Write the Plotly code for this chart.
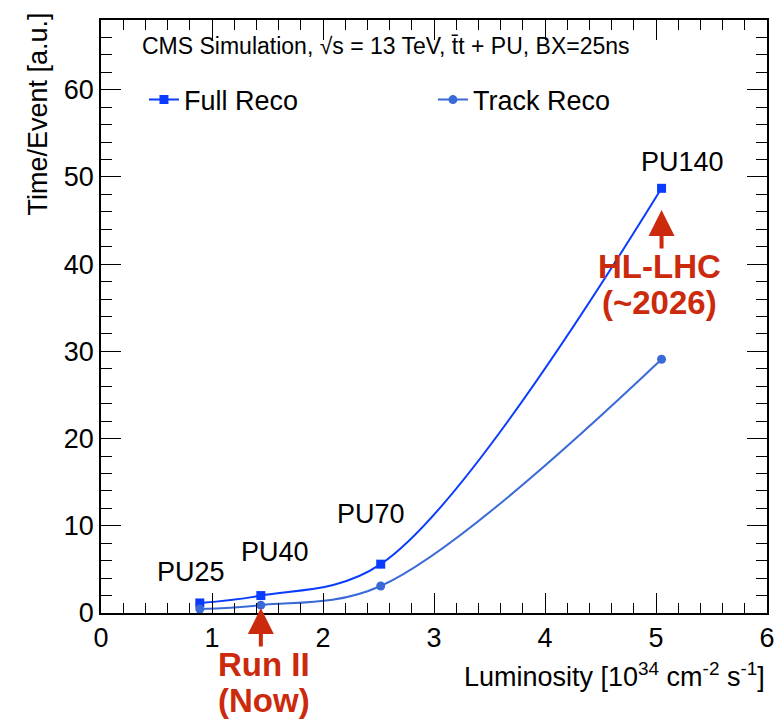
import plotly.graph_objects as go

lumi = [0.89, 1.44, 2.52, 5.05]
full_reco = [1.15, 2.0, 5.6, 48.7]
track_reco = [0.45, 0.9, 3.1, 29.1]
pu_labels = ["PU25", "PU40", "PU70", "PU140"]
pu_label_pos = [(0.815, 4.74), (1.565, 7.0), (2.43, 11.35), (5.24, 51.7)]

FULL_C = "#0a3cff"
TRACK_C = "#3a6ad8"
RED = "#cc2a0c"
FONT = "Liberation Sans, Arial, sans-serif"

fig = go.Figure()
fig.add_trace(go.Scatter(
    x=lumi, y=full_reco, mode="lines+markers", name="Full Reco",
    line=dict(color=FULL_C, width=2, shape="spline", smoothing=1.0),
    marker=dict(symbol="square", size=9, color=FULL_C),
    cliponaxis=False,
))
fig.add_trace(go.Scatter(
    x=lumi, y=track_reco, mode="lines+markers", name="Track Reco",
    line=dict(color=TRACK_C, width=2, shape="spline", smoothing=1.0),
    marker=dict(symbol="circle", size=9, color=TRACK_C),
    cliponaxis=False,
))

ann = []
for lab, (px, py) in zip(pu_labels, pu_label_pos):
    ann.append(dict(x=px, y=py, xref="x", yref="y", text=lab, showarrow=False,
                    font=dict(family=FONT, size=27, color="black")))

# CMS header
ann.append(dict(x=0.0586, y=0.9557, xref="paper", yref="paper", xanchor="left", yanchor="middle",
                text="CMS Simulation, \u221as = 13 TeV, t\u0304t + PU, BX=25ns", showarrow=False,
                font=dict(family=FONT, size=23, color="black")))

# arrows
ann.append(dict(x=1.44, y=0.57, xref="x", yref="y", ax=0, ay=40, text="", showarrow=True,
                arrowhead=2, arrowsize=1.3, arrowwidth=4, arrowcolor=RED))
ann.append(dict(x=5.05, y=46.2, xref="x", yref="y", ax=0, ay=40, text="", showarrow=True,
                arrowhead=2, arrowsize=1.3, arrowwidth=4, arrowcolor=RED))

# red texts (paper coords so they show outside the axis range)
for txt, x, y in [("Run II", 0.2445, -0.0861), ("(Now)", 0.2445, -0.1468),
                  ("HL-LHC", 0.8393, 0.584), ("(~2026)", 0.8393, 0.5232)]:
    ann.append(dict(x=x, y=y, xref="paper", yref="paper", text="<b>%s</b>" % txt, showarrow=False,
                    xanchor="center", yanchor="middle",
                    font=dict(family=FONT, size=33, color=RED)))

# axis titles
ann.append(dict(x=-0.0953, y=1.016, xref="paper", yref="paper", text="Time/Event [a.u.]",
                textangle=-90, showarrow=False, xanchor="center", yanchor="top",
                font=dict(family=FONT, size=27, color="black")))
ann.append(dict(x=1.0, y=-0.1046, xref="paper", yref="paper",
                text="Luminosity [10<sup>34</sup> cm<sup>-2</sup> s<sup>-1</sup>]",
                showarrow=False, xanchor="right", yanchor="middle",
                font=dict(family=FONT, size=27, color="black")))

axis_common = dict(showgrid=False, zeroline=False, showline=True, linecolor="black", linewidth=1.5,
                   mirror="ticks", ticks="inside", tickcolor="black", tickwidth=1.3,
                   tickfont=dict(family=FONT, size=27, color="black"), automargin=False)

fig.update_xaxes(range=[0, 6], dtick=1, tick0=0, ticklen=20,
                 minor=dict(dtick=0.2, ticklen=10, ticks="inside", tickcolor="black", tickwidth=1.3),
                 **axis_common)
fig.update_yaxes(range=[0, 68], dtick=10, tick0=0, ticklen=20,
                 minor=dict(dtick=2, ticklen=11, ticks="inside", tickcolor="black", tickwidth=1.3),
                 **axis_common)

fig.update_layout(
    width=776, height=713,
    margin=dict(l=93, r=17, t=12, b=108),
    plot_bgcolor="white", paper_bgcolor="white",
    showlegend=True,
    legend=dict(orientation="h", x=0.0645, y=0.865, xanchor="left", yanchor="middle",
                font=dict(family=FONT, size=27, color="black"),
                entrywidth=244, entrywidthmode="pixels", bgcolor="rgba(0,0,0,0)"),
    annotations=ann,
    font=dict(family=FONT),
)

fig.write_html("out.html")
